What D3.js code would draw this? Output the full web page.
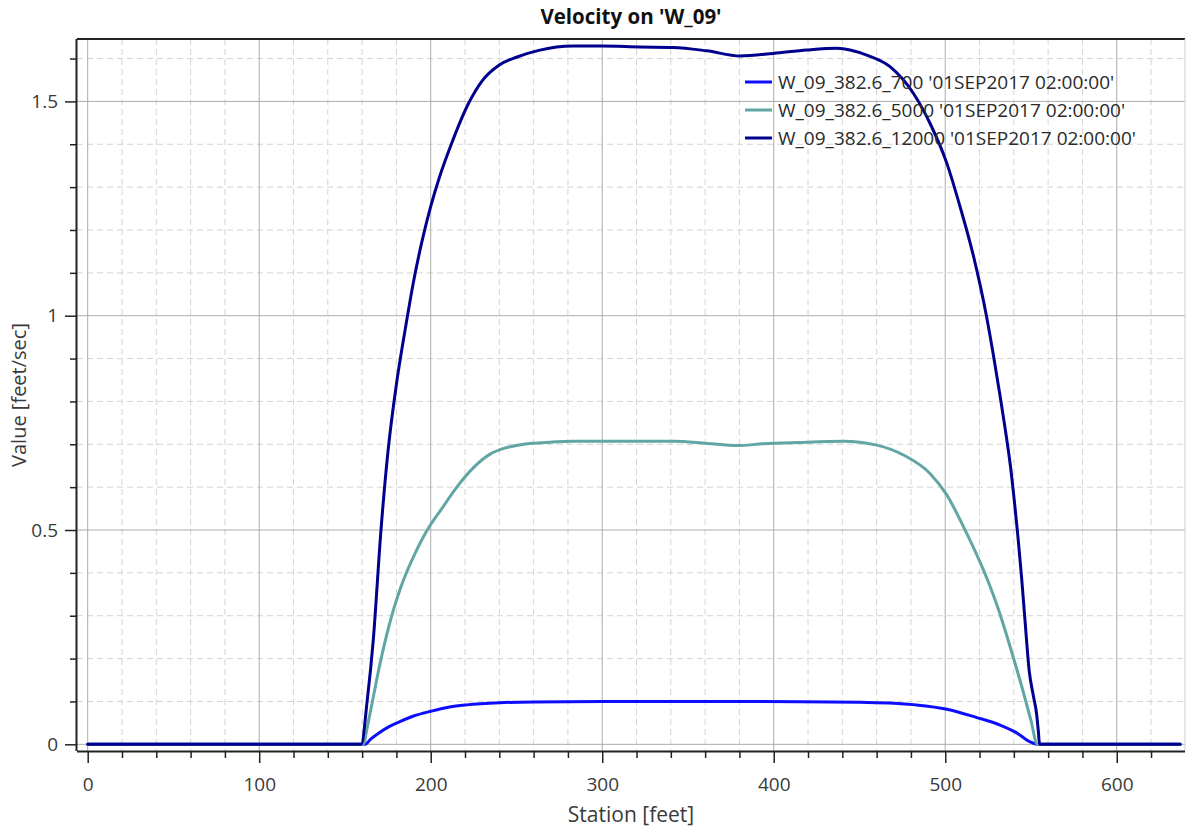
<!DOCTYPE html>
<html>
<head>
<meta charset="utf-8">
<script src="https://cdn.jsdelivr.net/npm/d3@7"></script>
<style>
  html, body { margin: 0; padding: 0; background: #fff; }
  svg { display: block; font-family: "Open Sans", "Noto Sans", sans-serif; }
</style>
</head>
<body>
<svg id="chart" width="1188" height="830"></svg>
<script>
// ---- data ----
const chartTitle = "Velocity on 'W_09'";
const xLabel = "Station [feet]";
const yLabel = "Value [feet/sec]";
const seriesNames = [
  "W_09_382.6_700 '01SEP2017 02:00:00'",
  "W_09_382.6_5000 '01SEP2017 02:00:00'",
  "W_09_382.6_12000 '01SEP2017 02:00:00'"
];
const seriesColors = ["#0c0cff", "#62a5a5", "#00008f"];

const station700 = [0, 161.7, 165, 170, 176, 182, 190, 200, 211, 221, 240, 260, 300, 350, 415, 450, 470, 483, 501, 518, 532, 542, 549.4, 554.3, 637];
const value700   = [0, 0, 0.012, 0.027, 0.042, 0.053, 0.066, 0.077, 0.087, 0.092, 0.097, 0.099, 0.1, 0.1, 0.0995, 0.098, 0.096, 0.092, 0.082, 0.063, 0.045, 0.026, 0.006, 0, 0];

const station5000 = [0, 160.7, 163, 166, 170, 174, 178, 182, 186, 190, 194, 198.6, 207, 215.2, 224.8, 234.6, 244, 254, 270, 283, 302.6, 341.5, 361, 378.4, 393.9, 413.4, 440.6, 460, 475.6, 491.1, 500.9, 510.6, 520.3, 526, 531, 536, 541, 546, 550, 553.7, 637];
const value5000   = [0, 0, 0.04, 0.1, 0.18, 0.25, 0.31, 0.36, 0.402, 0.438, 0.471, 0.504, 0.553, 0.6, 0.645, 0.677, 0.692, 0.7, 0.705, 0.707, 0.707, 0.707, 0.702, 0.697, 0.701, 0.704, 0.707, 0.698, 0.675, 0.632, 0.582, 0.508, 0.425, 0.37, 0.315, 0.252, 0.185, 0.115, 0.055, 0, 0];

const station12000 = [0, 159.5, 163, 166.5, 171, 175, 180, 185, 190, 195, 200, 205, 212, 222, 230, 240, 250, 263, 283, 300, 322, 341.5, 361, 380.4, 399.8, 419.3, 436.8, 454.2, 467.8, 481.4, 491.1, 500.9, 508.6, 516.4, 524, 528, 532, 535, 538, 540.5, 542.5, 544.5, 546.5, 549, 551.3, 553.3, 554.3, 555, 637];
const value12000   = [0, 0, 0.103, 0.243, 0.5, 0.68, 0.84, 0.965, 1.08, 1.175, 1.255, 1.322, 1.4, 1.495, 1.548, 1.585, 1.603, 1.619, 1.629, 1.629, 1.627, 1.626, 1.618, 1.606, 1.612, 1.62, 1.624, 1.608, 1.581, 1.519, 1.449, 1.356, 1.255, 1.14, 1.0, 0.91, 0.812, 0.735, 0.65, 0.56, 0.48, 0.39, 0.29, 0.17, 0.115, 0.07, 0.03, 0, 0];

const xMajorTicks = [0, 100, 200, 300, 400, 500, 600];
const xTickLabels = ["0", "100", "200", "300", "400", "500", "600"];
const yMajorTicks = [0, 0.5, 1, 1.5];
const yTickLabels = ["0", "0.5", "1", "1.5"];

// ---- layout ----
const svg = d3.select("#chart");
const L = 77, T = 39, R = 1185, B = 751;
const x = d3.scaleLinear().domain([-6.24, 639.8]).range([L, R]);
const y = d3.scaleLinear().domain([-0.0156, 1.6456]).range([B, T]);
const FONT = "Open Sans, Noto Sans, sans-serif";

const xMinor = d3.range(0, 640, 20).filter(v => v % 100 !== 0);
const yMinor = d3.range(1, 17).map(v => v / 10).filter(v => Math.abs(v * 2 - Math.round(v * 2)) > 1e-6);

const grid = svg.append("g");
grid.selectAll(".vx").data(xMinor).join("line")
  .attr("x1", d => x(d)).attr("x2", d => x(d)).attr("y1", T).attr("y2", B)
  .attr("stroke", "#d4d4d4").attr("stroke-dasharray", "6,4").attr("stroke-width", 1);
grid.selectAll(".hy").data(yMinor).join("line")
  .attr("y1", d => y(d)).attr("y2", d => y(d)).attr("x1", L).attr("x2", R)
  .attr("stroke", "#d4d4d4").attr("stroke-dasharray", "6,4").attr("stroke-width", 1);
grid.selectAll(".VX").data(xMajorTicks).join("line")
  .attr("x1", d => x(d)).attr("x2", d => x(d)).attr("y1", T).attr("y2", B)
  .attr("stroke", "#acacac").attr("stroke-width", 1);
grid.selectAll(".HY").data(yMajorTicks).join("line")
  .attr("y1", d => y(d)).attr("y2", d => y(d)).attr("x1", L).attr("x2", R)
  .attr("stroke", "#acacac").attr("stroke-width", 1);

// frame
svg.append("line").attr("x1", L).attr("x2", R).attr("y1", T).attr("y2", T).attr("stroke", "#222").attr("stroke-width", 2);
svg.append("line").attr("x1", R).attr("x2", R).attr("y1", T).attr("y2", B).attr("stroke", "#cfcfcf").attr("stroke-width", 1);

// axes
const gx = svg.append("g").attr("transform", `translate(0,${B})`)
  .call(d3.axisBottom(x).tickValues(xMajorTicks).tickSize(12).tickPadding(15).tickFormat((d, i) => xTickLabels[i]));
gx.select(".domain").attr("d", `M${L},0.5H${R}`).attr("stroke", "#222").attr("stroke-width", 2);
gx.selectAll(".tick line").attr("stroke", "#222").attr("stroke-width", 1.5);
gx.selectAll(".tick text").attr("font-size", 19).attr("fill", "#3a3a3a").attr("font-family", FONT);
const gxm = svg.append("g").attr("transform", `translate(0,${B})`)
  .call(d3.axisBottom(x).tickValues(xMinor).tickSize(7).tickFormat(""));
gxm.select(".domain").remove();
gxm.selectAll(".tick line").attr("stroke", "#222").attr("stroke-width", 1.5);

const gy = svg.append("g").attr("transform", `translate(${L},0)`)
  .call(d3.axisLeft(y).tickValues(yMajorTicks).tickSize(12).tickPadding(7).tickFormat((d, i) => yTickLabels[i]));
gy.select(".domain").attr("d", `M-0.5,${T}V${B}`).attr("stroke", "#222").attr("stroke-width", 2);
gy.selectAll(".tick line").attr("stroke", "#222").attr("stroke-width", 1.5);
gy.selectAll(".tick text").attr("font-size", 19).attr("fill", "#3a3a3a").attr("font-family", FONT);
const gym = svg.append("g").attr("transform", `translate(${L},0)`)
  .call(d3.axisLeft(y).tickValues(yMinor).tickSize(7).tickFormat(""));
gym.select(".domain").remove();
gym.selectAll(".tick line").attr("stroke", "#222").attr("stroke-width", 1.5);

// lines
const series = [
  { name: seriesNames[0], color: seriesColors[0], xs: station700, ys: value700 },
  { name: seriesNames[1], color: seriesColors[1], xs: station5000, ys: value5000 },
  { name: seriesNames[2], color: seriesColors[2], xs: station12000, ys: value12000 }
];
const line = d3.line().x(d => x(d[0])).y(d => y(d[1])).curve(d3.curveMonotoneX);
svg.append("g").selectAll("path").data(series).join("path")
  .attr("d", s => line(s.xs.map((v, i) => [v, s.ys[i]])))
  .attr("fill", "none").attr("stroke", s => s.color).attr("stroke-width", 3)
  .attr("stroke-linejoin", "round").attr("stroke-linecap", "round");

// legend
const lg = svg.append("g");
const legY = [82, 110, 138];
series.forEach((s, i) => {
  lg.append("line").attr("x1", 745).attr("x2", 772).attr("y1", legY[i]).attr("y2", legY[i])
    .attr("stroke", s.color).attr("stroke-width", 3);
  lg.append("text").attr("x", 778).attr("y", legY[i]).attr("dy", "0.35em")
    .attr("font-size", 19).attr("fill", "#2a2a2a").text(s.name);
});

// titles
svg.append("text").attr("x", (L + R) / 2).attr("y", 24).attr("text-anchor", "middle")
  .attr("font-size", 20.5).attr("font-weight", "bold").attr("fill", "#111").text(chartTitle);
svg.append("text").attr("x", (L + R) / 2).attr("y", 822).attr("text-anchor", "middle")
  .attr("font-size", 21).attr("fill", "#3a3a3a").text(xLabel);
svg.append("text").attr("transform", `translate(26,${(T + B) / 2}) rotate(-90)`).attr("text-anchor", "middle")
  .attr("font-size", 20).attr("fill", "#3a3a3a").text(yLabel);
</script>
</body>
</html>
